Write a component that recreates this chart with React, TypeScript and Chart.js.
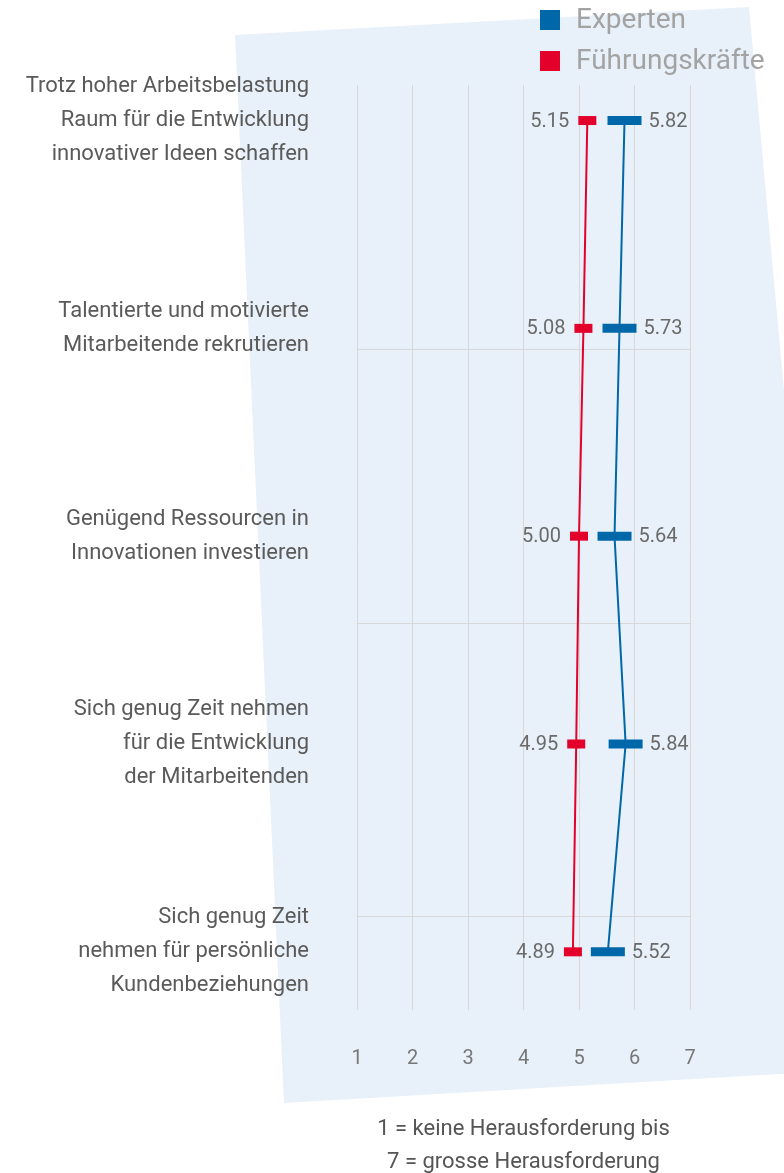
import React, { useEffect, useRef } from 'react';
import { Chart, registerables } from 'chart.js';

Chart.register(...registerables);

const categories: string[][] = [
  ['Trotz hoher Arbeitsbelastung', 'Raum für die Entwicklung', 'innovativer Ideen schaffen'],
  ['Talentierte und motivierte', 'Mitarbeitende rekrutieren'],
  ['Genügend Ressourcen in', 'Innovationen investieren'],
  ['Sich genug Zeit nehmen', 'für die Entwicklung', 'der Mitarbeitenden'],
  ['Sich genug Zeit', 'nehmen für persönliche', 'Kundenbeziehungen'],
];
const seriesNames = ['Experten', 'Führungskräfte'];
const expertenValues = [5.82, 5.73, 5.64, 5.84, 5.52];
const fuehrungValues = [5.15, 5.08, 5.0, 4.95, 4.89];
const xTickValues = [1, 2, 3, 4, 5, 6, 7];
const separatorTicks = [1.1, 2.42, 3.83];
const footnote = ['1 = keine Herausforderung bis', '7 = grosse Herausforderung'];

const BLUE = '#0067a9';
const RED = '#e3002b';
const FONT = 'Roboto';

const backgroundPanel = {
  id: 'backgroundPanel',
  beforeDraw(chart: any) {
    const ctx = chart.ctx;
    ctx.save();
    ctx.fillStyle = '#e8f1f9';
    ctx.beginPath();
    ctx.moveTo(235, 35);
    ctx.lineTo(749, 7);
    ctx.lineTo(846, 1070);
    ctx.lineTo(284, 1103);
    ctx.closePath();
    ctx.fill();
    ctx.restore();
  },
};

const valueLabels = {
  id: 'valueLabels',
  afterDatasetsDraw(chart: any) {
    const ctx = chart.ctx;
    ctx.save();
    ctx.font = `20px ${FONT}`;
    ctx.fillStyle = '#6a6a6a';
    ctx.textBaseline = 'middle';
    chart.data.datasets.forEach((ds: any, di: number) => {
      const meta = chart.getDatasetMeta(di);
      meta.data.forEach((pt: any, i: number) => {
        const v = ds.data[i].x as number;
        const txt = v.toFixed(2);
        if (ds.labelSide === 'left') {
          ctx.textAlign = 'right';
          ctx.fillText(txt, pt.x - ds.pointRadius - 9, pt.y + 1);
        } else {
          ctx.textAlign = 'left';
          ctx.fillText(txt, pt.x + ds.pointRadius + 7, pt.y + 1);
        }
      });
    });
    ctx.restore();
  },
};

const customLegend = {
  id: 'customLegend',
  afterDraw(chart: any) {
    const ctx = chart.ctx;
    ctx.save();
    ctx.font = `28px ${FONT}`;
    ctx.textBaseline = 'middle';
    ctx.textAlign = 'left';
    chart.data.datasets.forEach((ds: any, di: number) => {
      const y = 20 + di * 41;
      ctx.fillStyle = ds.borderColor;
      ctx.fillRect(540, y - 10, 20, 20);
      ctx.fillStyle = '#a3a3a3';
      ctx.fillText(ds.label, 576, y + 1);
    });
    ctx.restore();
  },
};

export default function App() {
  const canvasRef = useRef<HTMLCanvasElement | null>(null);

  useEffect(() => {
    if (!canvasRef.current) return;
    const chart = new Chart(canvasRef.current, {
      type: 'scatter',
      data: {
        datasets: [
          {
            label: seriesNames[0],
            data: expertenValues.map((v, i) => ({ x: v, y: i })),
            showLine: true,
            borderColor: BLUE,
            backgroundColor: BLUE,
            borderWidth: 2,
            tension: 0,
            pointStyle: 'line',
            pointRadius: 17,
            pointHoverRadius: 17,
            pointBorderWidth: 9,
            pointHoverBorderWidth: 9,
            pointBorderColor: BLUE,
            labelSide: 'right',
          } as any,
          {
            label: seriesNames[1],
            data: fuehrungValues.map((v, i) => ({ x: v, y: i })),
            showLine: true,
            borderColor: RED,
            backgroundColor: RED,
            borderWidth: 2,
            tension: 0,
            pointStyle: 'line',
            pointRadius: 9,
            pointHoverRadius: 9,
            pointBorderWidth: 9,
            pointHoverBorderWidth: 9,
            pointBorderColor: RED,
            labelSide: 'left',
          } as any,
        ],
      },
      options: {
        animation: false,
        responsive: false,
        maintainAspectRatio: false,
        events: [],
        layout: { padding: { left: 0, top: 85, right: 94, bottom: 0 } },
        plugins: {
          legend: { display: false },
          tooltip: { enabled: false },
        },
        scales: {
          x: {
            type: 'linear',
            min: 1,
            max: 7,
            afterBuildTicks: (scale: any) => {
              scale.ticks = xTickValues.map((v) => ({ value: v }));
            },
            afterFit: (scale: any) => {
              scale.height = 163;
              scale.paddingLeft = 0;
              scale.paddingRight = 0;
            },
            grid: { color: '#d8d8d8', lineWidth: 1, drawTicks: false },
            border: { display: false },
            ticks: {
              padding: 37,
              color: '#777777',
              font: { family: FONT, size: 20 },
              callback: (v: any) => String(v),
            },
            title: {
              display: true,
              text: footnote,
              color: '#555555',
              font: { family: FONT, size: 22, lineHeight: 33 / 22 },
              padding: { top: 0, bottom: -6 },
            },
          },
          y: {
            type: 'linear',
            reverse: true,
            min: -0.171,
            max: 4.28,
            afterBuildTicks: (scale: any) => {
              const vals = [...categories.map((_, i) => i), ...separatorTicks].sort((a, b) => a - b);
              scale.ticks = vals.map((v) => ({ value: v }));
            },
            afterFit: (scale: any) => {
              scale.width = 357;
              scale.paddingTop = 0;
              scale.paddingBottom = 0;
            },
            grid: {
              drawTicks: false,
              lineWidth: 1,
              color: (ctx: any) =>
                ctx.tick && Number.isInteger(ctx.tick.value) ? 'rgba(0,0,0,0)' : '#d8d8d8',
            },
            border: { display: false },
            ticks: {
              padding: 48,
              color: '#5a5a5a',
              autoSkip: false,
              font: { family: FONT, size: 22, lineHeight: 34 / 22 },
              callback: (v: any) => (Number.isInteger(v) ? categories[v] : ''),
            },
          },
        },
      },
      plugins: [backgroundPanel, valueLabels, customLegend],
    });
    return () => chart.destroy();
  }, []);

  return (
    <div style={{ position: 'absolute', left: 0, top: 0, width: 784, height: 1173 }}>
      <canvas ref={canvasRef} width={784} height={1173} style={{ display: 'block' }} />
    </div>
  );
}
